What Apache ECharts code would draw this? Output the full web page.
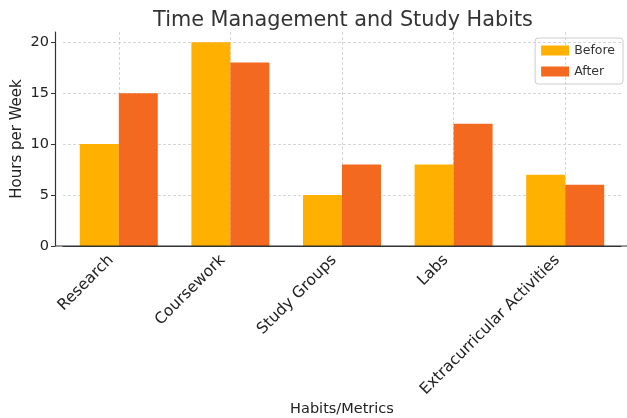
<!DOCTYPE html>
<html>
<head>
<meta charset="utf-8">
<script src="https://cdn.jsdelivr.net/npm/echarts@6/dist/echarts.min.js"></script>
<style>
  html, body { margin: 0; padding: 0; background: #fff; }
  #chartBox { width: 627px; height: 418px; }
</style>
</head>
<body>
<div id="chartBox"></div>
<script>
// data
var categories = ["Research", "Coursework", "Study Groups", "Labs", "Extracurricular Activities"];
var before = [10, 20, 5, 8, 7];
var after = [15, 18, 8, 12, 6];

var font = "DejaVu Sans";
var gridStyle = { color: "#cccccc", type: [3, 2], width: 0.8 };

var chart = echarts.init(document.getElementById("chartBox"));
chart.setOption({
  animation: false,
  textStyle: { fontFamily: font },
  title: {
    text: "Time Management and Study Habits",
    left: 338, top: 5, textAlign: "center",
    textStyle: { fontFamily: font, fontSize: 20.8, fontWeight: "normal", color: "#333333" }
  },
  legend: {
    data: ["Before", "After"],
    orient: "vertical",
    right: 4, top: 38,
    icon: "rect",
    itemWidth: 28, itemHeight: 10, itemGap: 8,
    padding: [6, 8, 6, 6],
    borderColor: "#cccccc", borderWidth: 1, borderRadius: 3,
    textStyle: { fontFamily: font, fontSize: 12.5, color: "#333333" }
  },
  grid: { left: 63, right: 6, top: 32, bottom: 172, outerBoundsMode: "none" },
  xAxis: {
    type: "category",
    data: categories,
    name: "Habits/Metrics",
    nameLocation: "middle",
    nameGap: 156,
    nameMoveOverlap: false,
    nameTextStyle: { fontFamily: font, fontSize: 14.5, color: "#222222" },
    axisLine: { lineStyle: { color: "#333333", width: 1.2 } },
    axisTick: { alignWithLabel: true, length: 4, lineStyle: { color: "#333333" } },
    axisLabel: { rotate: 45, fontSize: 15.5, color: "#222222", margin: 4, padding: [0, 11, 0, 0], interval: 0 },
    splitLine: { show: true, alignWithLabel: true, lineStyle: gridStyle }
  },
  yAxis: {
    type: "value",
    min: 0, max: 21, interval: 5,
    offset: 8,
    name: "Hours per Week",
    nameLocation: "middle",
    nameGap: 30,
    nameMoveOverlap: false,
    nameTextStyle: { fontFamily: font, fontSize: 15, color: "#222222" },
    axisLine: { show: true, lineStyle: { color: "#333333", width: 1.2 } },
    axisTick: { show: true, length: 4, lineStyle: { color: "#333333" } },
    axisLabel: { fontSize: 14.5, color: "#222222", margin: 6, showMaxLabel: false },
    splitLine: { show: true, showMaxLine: false, lineStyle: gridStyle }
  },
  graphic: [
    { type: "line", shape: { x1: 55, y1: 246, x2: 627, y2: 246 }, style: { stroke: "#333333", lineWidth: 1.2 }, z: 10 }
  ],
  series: [
    { name: "Before", type: "bar", data: before, barWidth: 39, barGap: "0%",
      itemStyle: { color: "#FFB000" } },
    { name: "After", type: "bar", data: after, barWidth: 39, barGap: "0%",
      itemStyle: { color: "#F3691F" } }
  ]
});
</script>
</body>
</html>
